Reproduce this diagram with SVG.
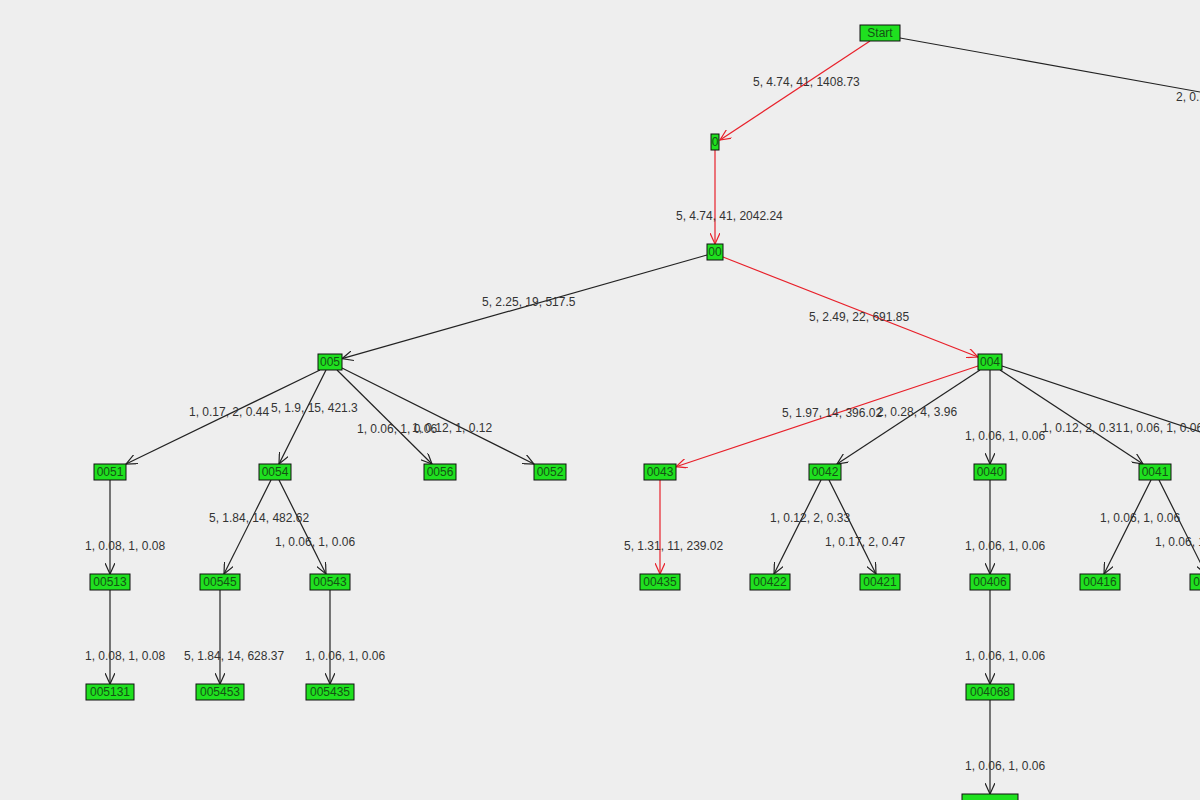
<svg xmlns="http://www.w3.org/2000/svg" width="1200" height="800" viewBox="0 0 1200 800">
<style>
.e{stroke:#222;stroke-width:1.2;fill:none;marker-end:url(#ab)}
.r{stroke:#e8202a;stroke-width:1.2;fill:none;marker-end:url(#ar)}
.n rect{fill:#1fe01f;stroke:#111;stroke-width:1}
.n text{font-family:"Liberation Sans",Arial,sans-serif;font-size:12px;fill:#145214;text-anchor:middle}
.l{font-family:"Liberation Sans",Arial,sans-serif;font-size:12px;fill:#333}
</style>
<defs>
<marker id="ab" markerWidth="12" markerHeight="10" refX="11" refY="5" orient="auto" markerUnits="userSpaceOnUse"><path d="M0,0 L11,5 L0,10" fill="none" stroke="#222" stroke-width="1.2"/></marker>
<marker id="ar" markerWidth="12" markerHeight="10" refX="11" refY="5" orient="auto" markerUnits="userSpaceOnUse"><path d="M0,0 L11,5 L0,10" fill="none" stroke="#e8202a" stroke-width="1.2"/></marker>
</defs>
<rect width="1200" height="800" fill="#eeeeee"/>
<g id="connectors">
<path class="e" d="M900,38 L1300,110"/>
<path class="r" d="M870,41 L720,140"/>
<path class="r" d="M715,150 L715,244"/>
<path class="e" d="M707,255 L342,358.7"/>
<path class="r" d="M723,257 L978,357"/>
<path class="r" d="M978,366 L676,466.7"/>
<path class="e" d="M980,370 L837,464"/>
<path class="e" d="M990,370 L990,464"/>
<path class="e" d="M1000,370 L1143,464"/>
<path class="e" d="M1002,366 L1300,465"/>
<path class="e" d="M320,370 L126,464"/>
<path class="e" d="M326,370 L279,464"/>
<path class="e" d="M337,370 L432,464"/>
<path class="e" d="M342,368 L534,464"/>
<path class="e" d="M110,480 L110,574"/>
<path class="e" d="M271,480 L224,574"/>
<path class="e" d="M279,480 L326,574"/>
<path class="r" d="M660,480 L660,574"/>
<path class="e" d="M821,480 L774,574"/>
<path class="e" d="M829,480 L876,574"/>
<path class="e" d="M990,480 L990,574"/>
<path class="e" d="M1151,480 L1104,574"/>
<path class="e" d="M1159,480 L1206,574"/>
<path class="e" d="M110,590 L110,684"/>
<path class="e" d="M220,590 L220,684"/>
<path class="e" d="M330,590 L330,684"/>
<path class="e" d="M990,590 L990,684"/>
<path class="e" d="M990,700 L990,794"/>
</g>
<g id="labels">
<text class="l" x="753" y="86">5, 4.74, 41, 1408.73</text>
<text class="l" x="1176" y="101">2, 0.12, 2, 0.18</text>
<text class="l" x="676" y="220">5, 4.74, 41, 2042.24</text>
<text class="l" x="482" y="306">5, 2.25, 19, 517.5</text>
<text class="l" x="809" y="321">5, 2.49, 22, 691.85</text>
<text class="l" x="189" y="416">1, 0.17, 2, 0.44</text>
<text class="l" x="271" y="412">5, 1.9, 15, 421.3</text>
<text class="l" x="357" y="433">1, 0.06, 1, 0.06</text>
<text class="l" x="412" y="432">1, 0.12, 1, 0.12</text>
<text class="l" x="782" y="417">5, 1.97, 14, 396.02</text>
<text class="l" x="877" y="416">2, 0.28, 4, 3.96</text>
<text class="l" x="965" y="440">1, 0.06, 1, 0.06</text>
<text class="l" x="1042" y="432">1, 0.12, 2, 0.31</text>
<text class="l" x="1123" y="432">1, 0.06, 1, 0.06</text>
<text class="l" x="85" y="550">1, 0.08, 1, 0.08</text>
<text class="l" x="209" y="522">5, 1.84, 14, 482.62</text>
<text class="l" x="275" y="546">1, 0.06, 1, 0.06</text>
<text class="l" x="624" y="550">5, 1.31, 11, 239.02</text>
<text class="l" x="770" y="522">1, 0.12, 2, 0.33</text>
<text class="l" x="825" y="546">1, 0.17, 2, 0.47</text>
<text class="l" x="965" y="550">1, 0.06, 1, 0.06</text>
<text class="l" x="1100" y="522">1, 0.06, 1, 0.06</text>
<text class="l" x="1155" y="546">1, 0.06, 1, 0.06</text>
<text class="l" x="85" y="660">1, 0.08, 1, 0.08</text>
<text class="l" x="184" y="660">5, 1.84, 14, 628.37</text>
<text class="l" x="305" y="660">1, 0.06, 1, 0.06</text>
<text class="l" x="965" y="660">1, 0.06, 1, 0.06</text>
<text class="l" x="965" y="770">1, 0.06, 1, 0.06</text>
</g>
<g id="n-start" class="n"><rect x="860" y="25" width="40" height="16"/><text x="880" y="37">Start</text></g>
<g id="n-0" class="n"><rect x="711" y="134" width="8" height="16"/><text x="715" y="146">0</text></g>
<g id="n-00" class="n"><rect x="707" y="244" width="16" height="16"/><text x="715" y="256">00</text></g>
<g id="n-005" class="n"><rect x="318" y="354" width="24" height="16"/><text x="330" y="366">005</text></g>
<g id="n-004" class="n"><rect x="978" y="354" width="24" height="16"/><text x="990" y="366">004</text></g>
<g id="n-0051" class="n"><rect x="94" y="464" width="32" height="16"/><text x="110" y="476">0051</text></g>
<g id="n-0054" class="n"><rect x="259" y="464" width="32" height="16"/><text x="275" y="476">0054</text></g>
<g id="n-0056" class="n"><rect x="424" y="464" width="32" height="16"/><text x="440" y="476">0056</text></g>
<g id="n-0052" class="n"><rect x="534" y="464" width="32" height="16"/><text x="550" y="476">0052</text></g>
<g id="n-0043" class="n"><rect x="644" y="464" width="32" height="16"/><text x="660" y="476">0043</text></g>
<g id="n-0042" class="n"><rect x="809" y="464" width="32" height="16"/><text x="825" y="476">0042</text></g>
<g id="n-0040" class="n"><rect x="974" y="464" width="32" height="16"/><text x="990" y="476">0040</text></g>
<g id="n-0041" class="n"><rect x="1139" y="464" width="32" height="16"/><text x="1155" y="476">0041</text></g>
<g id="n-00513" class="n"><rect x="90" y="574" width="40" height="16"/><text x="110" y="586">00513</text></g>
<g id="n-00545" class="n"><rect x="200" y="574" width="40" height="16"/><text x="220" y="586">00545</text></g>
<g id="n-00543" class="n"><rect x="310" y="574" width="40" height="16"/><text x="330" y="586">00543</text></g>
<g id="n-00435" class="n"><rect x="640" y="574" width="40" height="16"/><text x="660" y="586">00435</text></g>
<g id="n-00422" class="n"><rect x="750" y="574" width="40" height="16"/><text x="770" y="586">00422</text></g>
<g id="n-00421" class="n"><rect x="860" y="574" width="40" height="16"/><text x="880" y="586">00421</text></g>
<g id="n-00406" class="n"><rect x="970" y="574" width="40" height="16"/><text x="990" y="586">00406</text></g>
<g id="n-00416" class="n"><rect x="1080" y="574" width="40" height="16"/><text x="1100" y="586">00416</text></g>
<g id="n-00410" class="n"><rect x="1190" y="574" width="40" height="16"/><text x="1210" y="586">00410</text></g>
<g id="n-005131" class="n"><rect x="86" y="684" width="48" height="16"/><text x="110" y="696">005131</text></g>
<g id="n-005453" class="n"><rect x="196" y="684" width="48" height="16"/><text x="220" y="696">005453</text></g>
<g id="n-005435" class="n"><rect x="306" y="684" width="48" height="16"/><text x="330" y="696">005435</text></g>
<g id="n-004068" class="n"><rect x="966" y="684" width="48" height="16"/><text x="990" y="696">004068</text></g>
<g id="n-0040685" class="n"><rect x="962" y="794" width="56" height="16"/></g>
</svg>
